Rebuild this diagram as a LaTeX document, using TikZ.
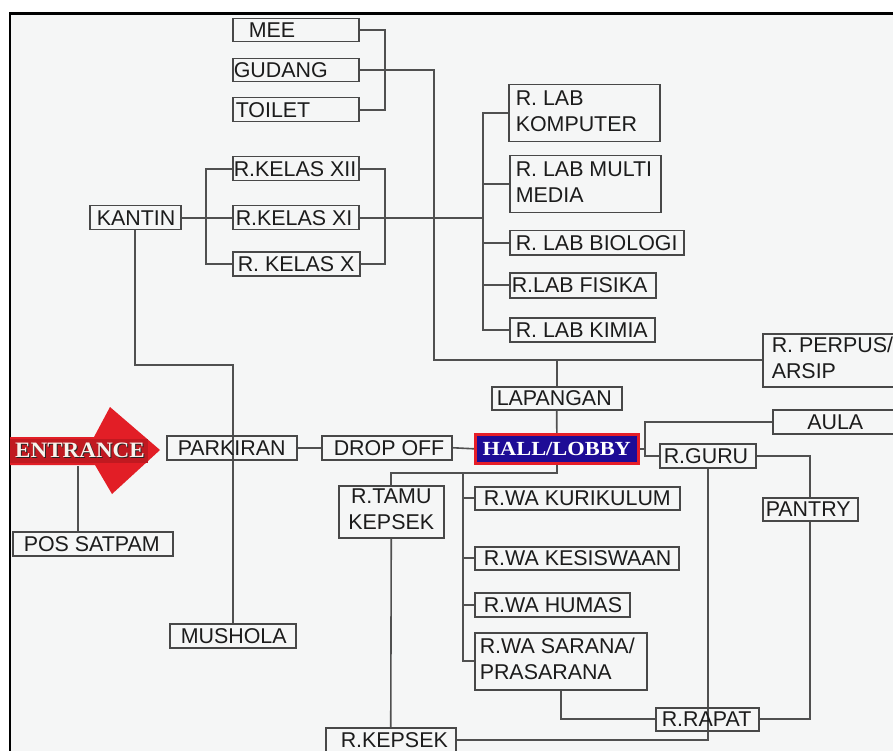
\documentclass[tikz,border=0pt]{standalone}
\usepackage{fontspec}
\setmainfont{Liberation Sans}
\newfontfamily\serifbold{Liberation Serif}
\usepackage{graphicx}
\definecolor{bggray}{RGB}{245,246,246}
\definecolor{boxgray}{RGB}{72,72,72}
\definecolor{linegray}{RGB}{80,80,80}
\definecolor{txt}{RGB}{28,28,28}
\definecolor{arrowred}{RGB}{226,30,38}
\definecolor{hallblue}{RGB}{30,12,150}
\definecolor{hallred}{RGB}{230,30,40}
\pgfdeclarelayer{bglayer}
\pgfdeclarelayer{linelayer}
\pgfsetlayers{bglayer,linelayer,main}
\tikzset{
  box/.style={draw=boxgray, line width=1.5pt, inner sep=0pt, anchor=north west,
    text=txt, font=\fontsize{21.4}{26}\selectfont},
  ln/.style={draw=linegray, line width=1.6pt},
}
% name, x1, y1, x2, y2, left pad, text (left aligned)
\newcommand\bx[7]{\node[box, minimum width={(#4-#2)*1pt}, minimum height={(#5-#3)*1pt}] (#1) at (#2,#3)
  {\makebox[\dimexpr #4pt-#2pt\relax][l]{\hspace*{#6pt}#7}};}
% name, x1, y1, x2, y2, text (centred)
\newcommand\bxc[6]{\node[box, minimum width={(#4-#2)*1pt}, minimum height={(#5-#3)*1pt}] (#1) at (#2,#3)
  {\makebox[\dimexpr #4pt-#2pt\relax][c]{#6}};}
\newcommand\tl[2]{\begin{tabular}{@{}l@{}}#1\\#2\end{tabular}}
\newcommand\tc[2]{\begin{tabular}{@{}c@{}}#1\\#2\end{tabular}}
\begin{document}
\begin{tikzpicture}[x=1pt,y=-1pt]
\useasboundingbox (0,0) rectangle (893,751);
\clip (0,0) rectangle (893,751);
\begin{pgfonlayer}{bglayer}
\fill[white] (0,0) rectangle (893,751);
\fill[bggray] (10,13) rectangle (893,751);
\draw[black, line width=2.6pt] (10,760) -- (10,13.5) -- (900,13.5);
\end{pgfonlayer}

% ---------- boxes ----------
\bx{mee}{232}{18}{358}{41}{16}{MEE}
\bx{gudang}{232}{58}{358}{81}{1}{GUDANG}
\bx{toilet}{232}{97}{358}{121}{3}{TOILET}
\bx{kxii}{232}{156}{358}{180}{1}{R.KELAS XII}
\bx{kxi}{232}{205}{358}{229}{3}{R.KELAS XI}
\bx{kx}{232}{251}{359}{275}{5}{R. KELAS X}
\bx{kantin}{89}{205}{180}{229}{7}{KANTIN}
\bx{lab1}{508}{84}{659}{141}{7}{\tl{R. LAB}{KOMPUTER}}
\bx{lab2}{509}{155}{660}{212}{6}{\tl{R. LAB MULTI}{MEDIA}}
\bx{lab3}{509}{230}{683}{254}{6}{R. LAB BIOLOGI}
\bx{lab4}{509}{272}{655}{297}{2}{R.LAB FISIKA}
\bx{lab5}{509}{317}{654}{341}{6}{R. LAB KIMIA}
\bx{perpus}{762}{333}{905}{386}{9}{\tl{R. PERPUS/}{ARSIP}}
\bx{lapangan}{491}{386}{621}{409}{5}{LAPANGAN}
\bxc{aula}{772}{409}{897}{433}{AULA}
\bx{rguru}{659}{443}{755}{467}{4}{R.GURU}
\bx{pantry}{762}{497}{857}{520}{3}{PANTRY}
\bx{parkiran}{166}{435}{296}{459}{11}{PARKIRAN}
\bx{dropoff}{321}{435}{451}{459}{12}{DROP OFF}
\bx{satpam}{12}{531}{172}{555}{11}{POS SATPAM}
\bx{mushola}{169}{623}{295}{647}{11}{MUSHOLA}
\bxc{tamu}{338}{485}{443}{537}{\tc{R.TAMU}{KEPSEK}}
\bx{kurikulum}{474}{486}{679}{509}{9}{R.WA KURIKULUM}
\bx{kesiswaan}{474}{546}{678}{569}{9}{R.WA KESISWAAN}
\bx{humas}{474}{592}{629}{616}{9}{R.WA HUMAS}
\bx{sarana}{474}{632}{646}{689}{5}{\tl{R.WA SARANA/}{PRASARANA}}
\bx{rapat}{655}{707}{758}{730}{6}{R.RAPAT}
\bx{kepsek}{325}{727}{455}{751}{15}{R.KEPSEK}

% ---------- hall ----------
\node[draw=hallred, fill=hallblue, line width=2.6pt, inner sep=0pt, anchor=north west,
  minimum width=163pt, minimum height=29pt, text=white,
  font=\serifbold\bfseries\fontsize{20}{24}\selectfont] (hall) at (474,433) {\scalebox{1.12}[1]{HALL/LOBBY}};

% ---------- entrance arrow ----------
\begin{pgfonlayer}{linelayer}
\fill[arrowred] (10,437) -- (94,437) -- (110,407) -- (160,450) -- (112,494) -- (95,465) -- (10,465) -- cycle;
\fill[arrowred!85!black] (10,439) rectangle (148,463);
\end{pgfonlayer}
\node[text=black!85, font=\serifbold\bfseries\fontsize{22}{24}\selectfont] (entshadow) at (81,451) {\scalebox{1.05}[1]{ENTRANCE}};
\node[text=white!90!brown, font=\serifbold\bfseries\fontsize{22}{24}\selectfont] (entrance) at (80,450) {\scalebox{1.05}[1]{ENTRANCE}};
\coordinate (entfoot) at (78,466);

% ---------- junction coordinates ----------
\coordinate (mb) at (385,0);
\coordinate (kl) at (206,0);
\coordinate (kr) at (385,0);
\coordinate (lb) at (483,0);
\coordinate (gx) at (434,0);
\coordinate (km) at (0,365);
\coordinate (hb) at (0,473);
\coordinate (wb) at (463,0);
\coordinate (ha) at (645,0);

% ---------- connectors ----------
\begin{pgfonlayer}{linelayer}
\begin{scope}[ln]
\draw (mee.east) -- (mee.east -| mb) -- (toilet.east -| mb) -- (toilet.east);
\draw (gudang.east) -- (gudang.east -| gx) -- (perpus.west -| gx) -- (perpus.west);
\draw (lapangan.north |- perpus.west) -- (lapangan.north);
\draw (kxii.west) -- (kxii.west -| kl) -- (kx.west -| kl) -- (kx.west);
\draw (kxii.east) -- (kxii.east -| kr) -- (kx.east -| kr) -- (kx.east);
\draw (kantin.east) -- (kxi.west);
\draw (kxi.east) -- (kxi.east -| lb);
\draw (lab1.west) -- (lab1.west -| lb) -- (lab5.west -| lb) -- (lab5.west);
\foreach \n in {lab2,lab3,lab4} \draw (\n.west) -- (\n.west -| lb);
\draw (kantin.south) -- (kantin.south |- km) -- (km -| mushola.north) -- (mushola.north);
\draw (entfoot) -- (entfoot |- satpam.north);
\draw (parkiran.east) -- (dropoff.west);
\draw (dropoff.east) -- (hall.west);
\draw (lapangan.south) -- (hall.north);
\draw (hall.south) -- (hall.south |- hb) -- (hb -| tamu.north) -- (tamu.north);
\draw (hb -| wb) -- (sarana.west -| wb) -- (sarana.west);
\foreach \n in {kurikulum,kesiswaan,humas} \draw (\n.west) -- (\n.west -| wb);
\draw (tamu.south) -- (kepsek.north);
\draw (kepsek.east) -| (rguru.south);
\draw (hall.east) -- (hall.east -| ha);
\draw (aula.west) -- (aula.west -| ha) -- (rguru.west -| ha) -- (rguru.west);
\draw (rguru.east) -| (pantry.north);
\draw (pantry.south) |- (rapat.east);
\draw (sarana.south) |- (rapat.west);
\end{scope}
\end{pgfonlayer}
\end{tikzpicture}
\end{document}
